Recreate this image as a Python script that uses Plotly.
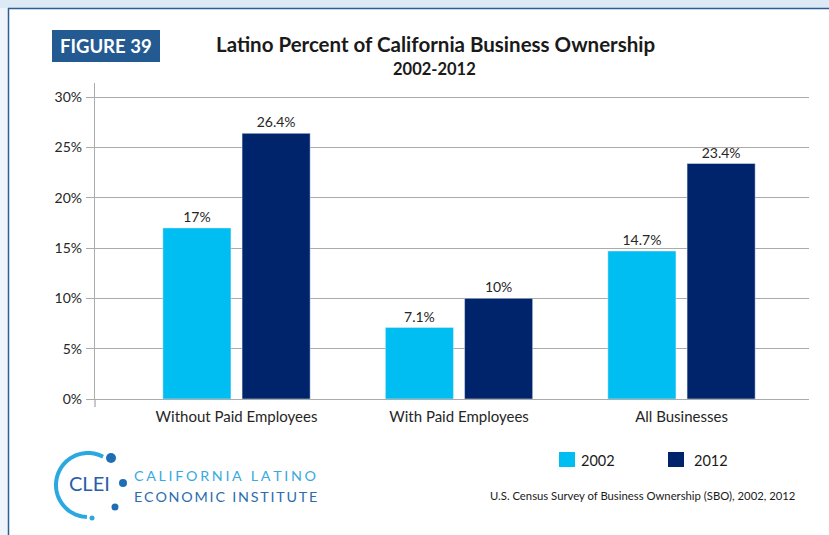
import math
import plotly.graph_objects as go

categories = ["Without Paid Employees", "With Paid Employees", "All Businesses"]
years = ["2002", "2012"]
values_2002 = [17.0, 7.1, 14.7]
values_2012 = [26.4, 10.0, 23.4]
labels_2002 = ["17%", "7.1%", "14.7%"]
labels_2012 = ["26.4%", "10%", "23.4%"]
y_ticks = [0, 5, 10, 15, 20, 25, 30]
y_tick_labels = ["0%", "5%", "10%", "15%", "20%", "25%", "30%"]

title = "Latino Percent of California Business Ownership"
subtitle = "2002-2012"
figure_label = "FIGURE 39"
source = "U.S. Census Survey of Business Ownership (SBO), 2002, 2012"
logo_short = "CLEI"
logo_line1 = "CALIFORNIA LATINO"
logo_line2 = "ECONOMIC INSTITUTE"

W_FIG, H_FIG = 829, 535
ML, MR, MT, MB = 95, 20, 83, 136
PW = W_FIG - ML - MR
PH = H_FIG - MT - MB

def px(x):
    return (x - ML) / PW

def py(y):
    return (H_FIG - MB - y) / PH

FONT = "Lato, 'Open Sans', sans-serif"
C2002 = "#00bdf2"
C2012 = "#00246b"
GRID = "#ababab"
TXT = "#262626"

fig = go.Figure()
bw = 0.306
fig.add_trace(go.Bar(
    x=categories, y=values_2002, name=years[0], marker_color=C2002,
    width=bw, offset=-0.331, text=labels_2002, textposition="outside",
    textfont=dict(size=14, color=TXT, family=FONT), cliponaxis=False, showlegend=False,
))
fig.add_trace(go.Bar(
    x=categories, y=values_2012, name=years[1], marker_color=C2012,
    width=bw, offset=0.025, text=labels_2012, textposition="outside",
    textfont=dict(size=14, color=TXT, family=FONT), cliponaxis=False, showlegend=False,
))

shapes = []
# background strips and frame
shapes.append(dict(type="rect", xref="paper", yref="paper", x0=px(0), x1=px(W_FIG), y0=py(0), y1=py(8),
                   fillcolor="#dde9f4", line_width=0, layer="below"))
shapes.append(dict(type="rect", xref="paper", yref="paper", x0=px(0), x1=px(8), y0=py(8), y1=py(H_FIG),
                   fillcolor="#eef4fa", line_width=0, layer="below"))
shapes.append(dict(type="line", xref="paper", yref="paper", x0=px(8), x1=px(W_FIG), y0=py(8.5), y1=py(8.5),
                   line=dict(color="#2c5d97", width=1.5)))
shapes.append(dict(type="line", xref="paper", yref="paper", x0=px(8.5), x1=px(8.5), y0=py(8), y1=py(H_FIG),
                   line=dict(color="#2c5d97", width=1.5)))
# figure label box
shapes.append(dict(type="rect", xref="paper", yref="paper", x0=px(52), x1=px(160), y0=py(62), y1=py(30),
                   fillcolor="#235a92", line_width=0))
# small tick below axis at left
shapes.append(dict(type="line", xref="paper", yref="paper", x0=0, x1=0, y0=py(H_FIG - MB + 8), y1=0,
                   line=dict(color=GRID, width=1.3)))
# manual legend swatches
leg_x = [559, 668]
leg_text_x = [579, 692]
leg_cols = [C2002, C2012]
for lx, col in zip(leg_x, leg_cols):
    shapes.append(dict(type="rect", xref="paper", yref="paper", x0=px(lx), x1=px(lx + 16),
                       y0=py(467), y1=py(452), fillcolor=col, line_width=0))

# logo ring arc
cx, cy, r = 88, 485, 32
pts = []
for i in range(61):
    a = math.radians(62 + i * (268 - 62) / 60)
    pts.append((cx + r * math.cos(a), cy - r * math.sin(a)))
path = "M " + " L ".join(f"{px(x):.5f},{py(y):.5f}" for x, y in pts)
shapes.append(dict(type="path", xref="paper", yref="paper", path=path,
                   line=dict(color="#2aa8e0", width=4)))
for (dx, dy, rr, col) in [(111, 458, 5, "#1f6db5"), (123, 483, 4, "#1f6db5"),
                          (115, 507, 3.5, "#1f6db5"), (92, 518, 2.5, "#2aa8e0")]:
    shapes.append(dict(type="circle", xref="paper", yref="paper",
                       x0=px(dx - rr), x1=px(dx + rr), y0=py(dy + rr), y1=py(dy - rr),
                       fillcolor=col, line_width=0))

sp1 = "\u2009\u200a"
sp2 = "\u2009"
annotations = [
    dict(text=f"<b>{title}</b>", x=px(435), y=py(44), xref="paper", yref="paper", showarrow=False,
         font=dict(size=20.5, color="#1a1a1a", family=FONT), xanchor="center", yanchor="middle"),
    dict(text=f"<b>{subtitle}</b>", x=px(434), y=py(69), xref="paper", yref="paper", showarrow=False,
         font=dict(size=16.5, color="#1a1a1a", family=FONT), xanchor="center", yanchor="middle"),
    dict(text=f"<b>{figure_label}</b>", x=px(106), y=py(46), xref="paper", yref="paper", showarrow=False,
         font=dict(size=18.5, color="white", family=FONT), xanchor="center", yanchor="middle"),
    dict(text=source, x=px(488), y=py(495), xref="paper", yref="paper", showarrow=False,
         font=dict(size=11.3, color="#1a1a1a", family=FONT), xanchor="left", yanchor="middle"),
    dict(text=logo_short, x=px(89), y=py(483), xref="paper", yref="paper", showarrow=False,
         font=dict(size=20, color="#2a5ea8", family=FONT), xanchor="center", yanchor="middle"),
    dict(text=sp1.join(logo_line1), x=px(132), y=py(475), xref="paper", yref="paper", showarrow=False,
         font=dict(size=14.3, color="#3aa9dd", family=FONT), xanchor="left", yanchor="middle"),
    dict(text=sp2.join(logo_line2), x=px(132), y=py(497), xref="paper", yref="paper", showarrow=False,
         font=dict(size=14.3, color="#2b6cb0", family=FONT), xanchor="left", yanchor="middle"),
]
for tx, yr in zip(leg_text_x, years):
    annotations.append(dict(text=yr, x=px(tx), y=py(460),
                            xref="paper", yref="paper", showarrow=False,
                            font=dict(size=14.5, color="#1a1a1a", family=FONT), xanchor="left", yanchor="middle"))

fig.update_layout(
    width=W_FIG, height=H_FIG,
    margin=dict(l=ML, r=MR, t=MT, b=MB, pad=0),
    paper_bgcolor="white", plot_bgcolor="white",
    barmode="group",
    shapes=shapes, annotations=annotations,
    font=dict(family=FONT, color=TXT),
    showlegend=False,
    xaxis=dict(range=[-0.636, 2.573], showgrid=False, showline=True, linecolor=GRID, linewidth=1.3,
               ticks="", ticklabelstandoff=4, tickfont=dict(size=15, color=TXT, family=FONT), fixedrange=True),
    yaxis=dict(range=[0, 31.4], tickvals=y_ticks, ticktext=y_tick_labels, showgrid=True, gridcolor=GRID,
               gridwidth=1.3, showline=True, linecolor=GRID, linewidth=1.3, ticks="outside", ticklen=8,
               tickcolor=GRID, tickwidth=1.3, ticklabelstandoff=1, tickfont=dict(size=14, color=TXT, family=FONT),
               zeroline=False, fixedrange=True),
)

fig.write_html("out.html", config={"displayModeBar": False},
               post_script="document.body.style.margin='0';")
